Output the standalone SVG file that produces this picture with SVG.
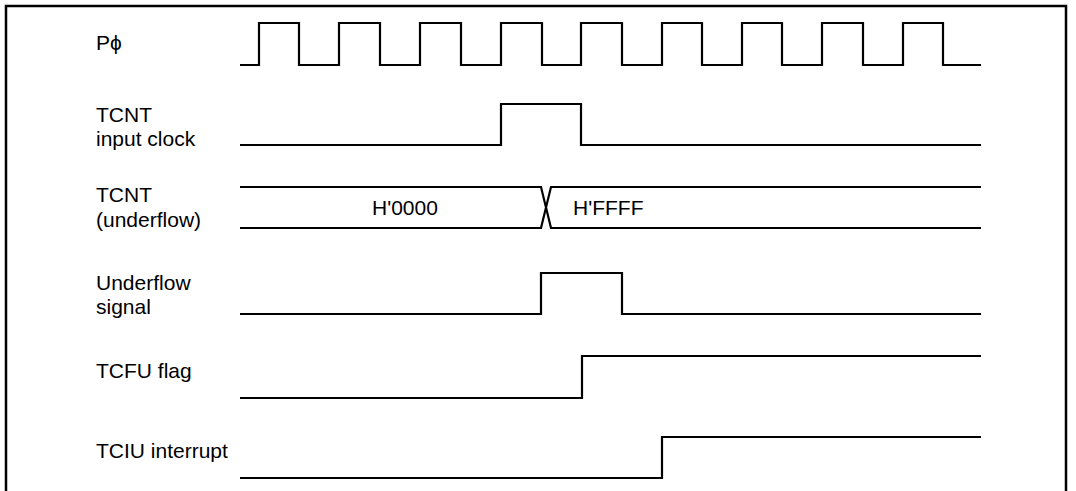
<svg xmlns="http://www.w3.org/2000/svg" width="1076" height="491" viewBox="0 0 1076 491">
<style>
.lbl{font-family:"Liberation Sans",Arial,sans-serif;font-size:21px;fill:#000}
.w{fill:none;stroke:#000;stroke-width:2.2;stroke-linejoin:miter;stroke-linecap:butt}
</style>
<rect x="0" y="0" width="1076" height="491" fill="#fff"/>
<path d="M6,498 V6 H1066 V498" fill="none" stroke="#000" stroke-width="2.5"/>
<g id="labels">
<g id="pphi"><text class="lbl" x="96" y="50">Pϕ</text></g>
<g id="tcnt-clk"><text class="lbl" x="96" y="122">TCNT</text><text class="lbl" x="96" y="146">input clock</text></g>
<g id="tcnt-val"><text class="lbl" x="96" y="202">TCNT</text><text class="lbl" x="96" y="227">(underflow)</text></g>
<g id="uflow"><text class="lbl" x="96" y="290">Underflow</text><text class="lbl" x="96" y="314">signal</text></g>
<g id="tcfu"><text class="lbl" x="96" y="378">TCFU flag</text></g>
<g id="tciu"><text class="lbl" x="96" y="458">TCIU interrupt</text></g>
</g>
<g id="waveforms">
<path class="w" d="M240,65 H259 V23 H299 V65 H339 V23 H380 V65 H420 V23 H461 V65 H501 V23 H542 V65 H581 V23 H622 V65 H662 V23 H702 V65 H742 V23 H782 V65 H822 V23 H863 V65 H903 V23 H943 V65 H981"/>
<path class="w" d="M240,145 H501 V104 H581 V145 H981"/>
<path class="w" d="M240,187 H541 L551,228 H981 M240,228 H541 L551,187 H981"/>
<path class="w" d="M240,314 H541 V273 H622 V314 H981"/>
<path class="w" d="M240,398 H582 V356 H981"/>
<path class="w" d="M240,478 H662 V437 H981"/>
</g>
<g id="values">
<text class="lbl" x="372" y="215">H'0000</text>
<text class="lbl" x="573" y="215">H'FFFF</text>
</g>
</svg>
